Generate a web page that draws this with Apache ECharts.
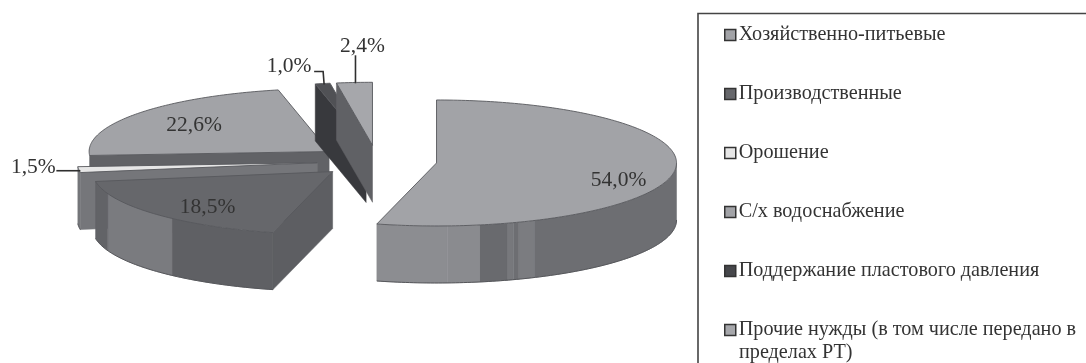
<!DOCTYPE html>
<html><head><meta charset="utf-8">
<style>html,body{margin:0;padding:0;background:#fff}#c{width:1086px;height:363px}</style>
<script src="https://cdn.jsdelivr.net/npm/echarts@6/dist/echarts.min.js"></script>
</head><body><div id="c"></div>
<script>
// ---- data, in clockwise pie order starting from 12 o'clock
const categories = ['Хозяйственно-питьевые','Производственные','Орошение','С/х водоснабжение','Поддержание пластового давления','Прочие нужды (в том числе передано в\nпределах РТ)'];
const values = [54.0, 18.5, 1.5, 22.6, 1.0, 2.4];
const valueLabels = ['54,0%','18,5%','1,5%','22,6%','1,0%','2,4%'];

// ---- styling
const topColors = ['#a2a3a7','#66676b','#e6e6e6','#a2a3a7','#505155','#a6a7ab'];
const legendColors = ['#a2a3a7','#66676b','#e6e6e6','#a2a3a7','#46474b','#a6a7ab'];
const cutColors = ['#6a6b6f','#5d5e62','#75767a','#616266','#38393d','#606165'];
// outer-wall shading bands: [end angle in degrees, colour]
const wallBands = [
  [[156,'#6d6e72'],[160,'#7b7c80'],[161.3,'#6d6e72'],[162.8,'#77787c'],[169.7,'#696a6e'],[177.4,'#8a8b8f'],[194.4,'#8c8d91']],
  [[222,'#5f6064'],[249.6,'#7a7b7f'],[261,'#626367']],
  [[266.4,'#75767a']],[],[],[]
];
// ---- 3D pie projection
const pie = {cx:377, cy:161, a:240, b:63, depth:57, explode:0.25};
// label centre relative to the slice apex, and leader line relative to the same apex
const labelOffsets = [[182,17],[-125,36],[-284,5],[-135,-26],[-77,-79],[-10,-99]];
const leaders = [null,null,[[-261,8],[-237,8]],null,[[-52,-74],[-43,-74],[-42,-61]],[[-17,-90],[-17,-62]]];
const fontFamily = '"Liberation Serif","DejaVu Serif",serif';
const rad = d => d*Math.PI/180;

const starts = [];
values.reduce((s,v,i)=>{starts[i]=s; return s+v;},0);
const total = values.reduce((s,v)=>s+v,0);

function makeRender(i){
  return function(params, api){
    const v = api.value(0);
    const t0 = starts[i]/total*360, t1 = t0 + v/total*360, mid=(t0+t1)/2;
    const ox = pie.cx + pie.explode*pie.a*Math.sin(rad(mid));
    const oy = pie.cy - pie.explode*pie.b*Math.cos(rad(mid));
    const P = t => [ox+pie.a*Math.sin(rad(t)), oy-pie.b*Math.cos(rad(t))];
    const down = p => [p[0],p[1]+pie.depth];
    const apex=[ox,oy];
    const arc=(a,b)=>{const n=Math.max(2,Math.ceil(Math.abs(b-a))),r=[];for(let k=0;k<=n;k++)r.push(P(a+(b-a)*k/n));return r;};
    const children=[];
    const poly=(pts,fill,stroke)=>children.push({type:'polygon',shape:{points:pts},style:{fill,stroke:stroke||fill,lineWidth:stroke?0.9:0.5}});
    // cut faces that turn toward the viewer
    const cut=t=>{const p=P(t);poly([apex,p,down(p),down(apex)],cutColors[i]);};
    if(t0>180 && t0<360) cut(t0);
    if(t1>0 && t1<180) cut(t1);
    // outer wall, front half only
    let from=Math.max(t0,90);
    const wallStart=from;
    for(const [end,col] of wallBands[i]){
      const e=Math.min(end,t1);
      if(e<=from) continue;
      const top=arc(from,e);
      poly(top.concat(top.map(down).reverse()),col);
      from=e;
    }
    // dark lower rim of the wall
    if(from>wallStart) children.push({type:'polyline',shape:{points:arc(wallStart,from).map(down)},style:{fill:null,stroke:'#55565a',lineWidth:1}});
    // top face
    poly([apex].concat(arc(t0,t1)),topColors[i],'#57585c');
    // leader
    if(leaders[i]) children.push({type:'polyline',shape:{points:leaders[i].map(p=>[ox+p[0],oy+p[1]])},style:{fill:null,stroke:'#2f2f2f',lineWidth:1.6}});
    // label
    children.push({type:'text',style:{text:valueLabels[i],x:ox+labelOffsets[i][0],y:oy+labelOffsets[i][1],align:'center',verticalAlign:'middle',font:'21.5px '+fontFamily,fill:'#333'}});
    return {type:'group',children};
  };
}

// painter's order: far slices first
const paintOrder=[3,4,5,2,0,1];
const series=paintOrder.map(i=>({
  type:'custom', name:categories[i], coordinateSystem:'none', silent:true,
  itemStyle:{color:legendColors[i]},
  data:[[values[i]]], renderItem:makeRender(i), animation:false
}));

const legendFont = {fontFamily,fontSize:20.2,color:'#333'};
const chart=echarts.init(document.getElementById('c'),null,{renderer:'canvas'});
chart.setOption({
  animation:false, backgroundColor:'#fff',
  graphic:[
    {type:'rect',shape:{x:698,y:13.5,width:600,height:600},style:{fill:'none',stroke:'#444',lineWidth:1.6},silent:true},
    {type:'text',style:{text:categories[5].split('\n')[1],x:739,y:353,verticalAlign:'middle',font:'20.2px '+fontFamily,fill:'#333'},silent:true}
  ],
  legend:{
    orient:'vertical', left:719, top:20, height:340, icon:'rect', itemWidth:11, itemHeight:11, itemGap:39, selectedMode:false,
    data:categories,
    formatter:name=>name.split('\n')[0],
    itemStyle:{borderColor:'#333',borderWidth:1.5},
    textStyle:Object.assign({padding:[0,0,0,-2],lineHeight:20},legendFont)
  },
  series
});
</script></body></html>
